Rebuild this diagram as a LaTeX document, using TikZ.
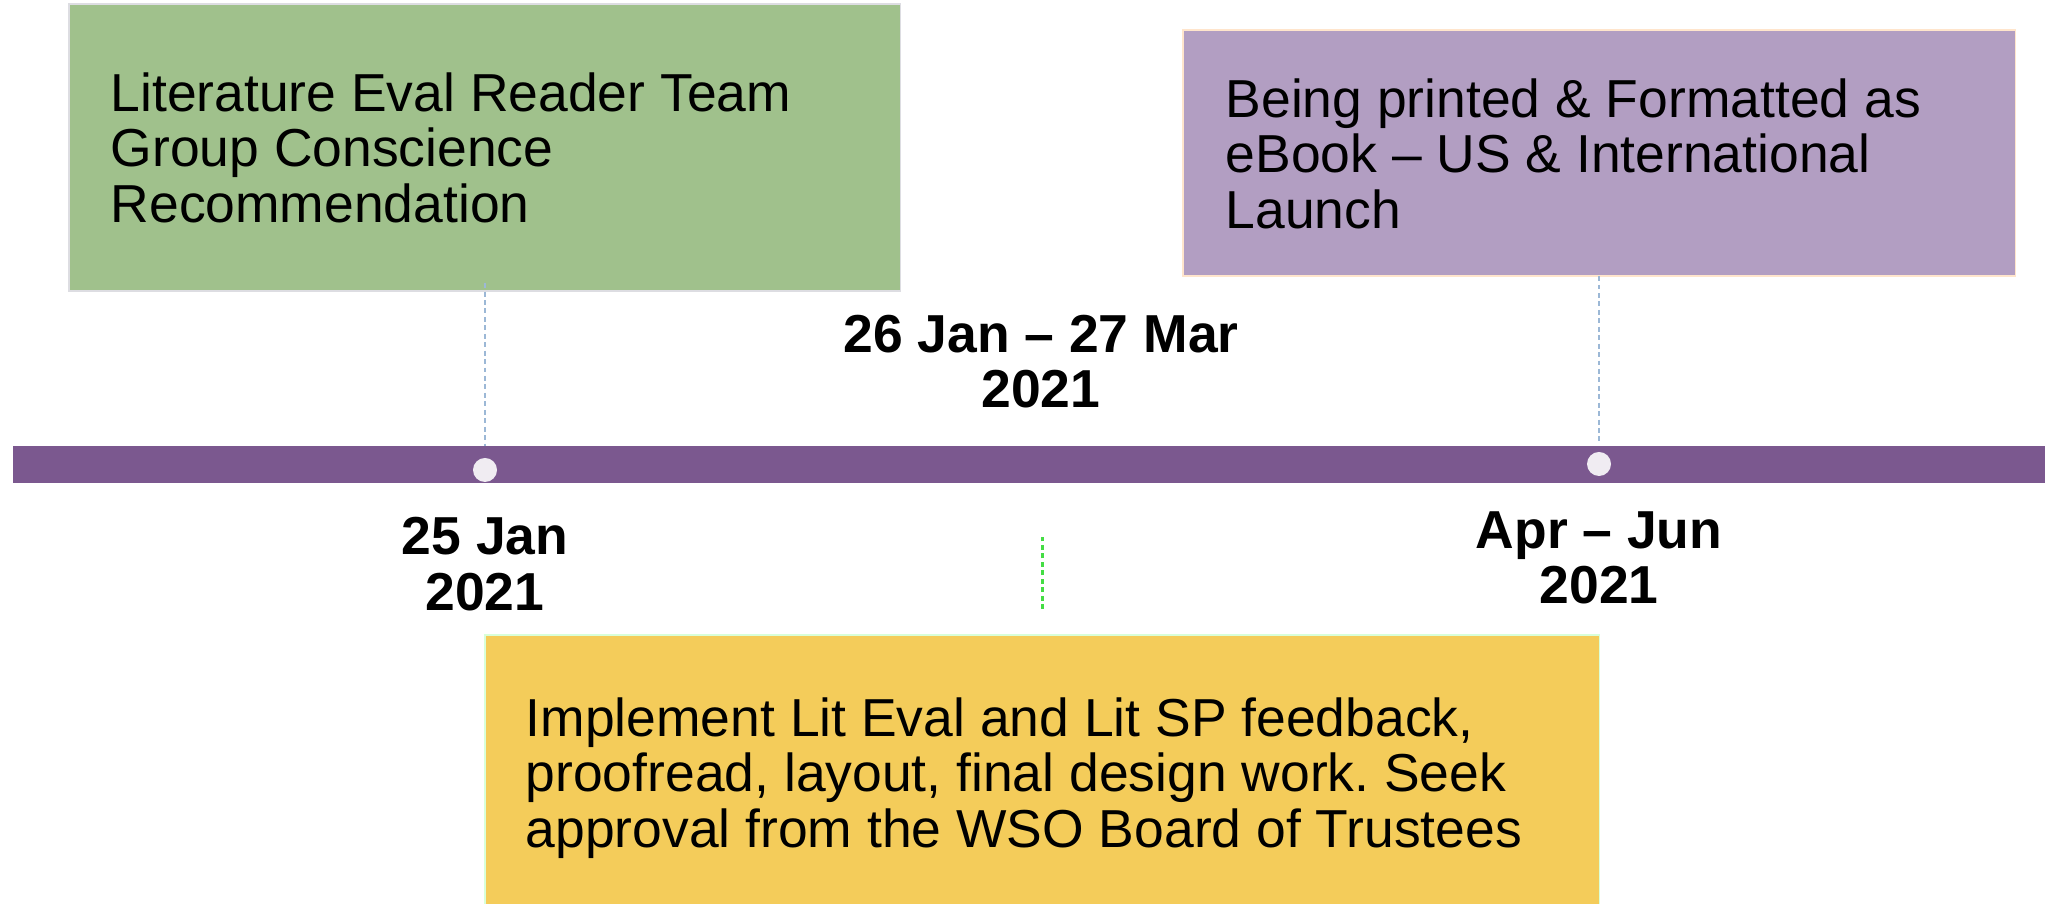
\documentclass[tikz,border=0pt]{standalone}
\usepackage{fontspec}
\setmainfont{Liberation Sans}
\usepackage{tikz}
\usetikzlibrary{positioning,calc}
\frenchspacing
\definecolor{evalgreen}{HTML}{A0C18C}
\definecolor{printpurple}{HTML}{B29EC2}
\definecolor{workyellow}{HTML}{F4CC5A}
\definecolor{barpurple}{HTML}{7B588F}
\definecolor{dotwhite}{HTML}{F0ECF2}
\definecolor{linkblue}{HTML}{9CB8D6}
\definecolor{linkgreen}{HTML}{44DD44}

\begin{document}
\begin{tikzpicture}[x=0.01cm, y=-0.01cm,
  box/.style={draw, line width=0.4pt, rectangle, anchor=north west, inner sep=0, outer sep=0},
  boxtext/.style={anchor=north west, align=left, inner sep=0, font=\fontsize{15.2}{15.8}\selectfont},
  date/.style={anchor=north, align=center, inner sep=0, font=\fontsize{15.2}{15.8}\selectfont\bfseries},
  dot/.style={circle, fill=dotwhite, minimum size=0.24cm, inner sep=0},
  link/.style={draw=linkblue, line width=0.55pt, dash pattern=on 1.4pt off 1pt}]
  \useasboundingbox (0,0) rectangle (2045,904);

  % Boxes
  \node[box, draw=blue!8!gray!25, fill=evalgreen, minimum width=8.31cm, minimum height=2.87cm] (green) at (69,4) {};
  \node[boxtext] at ($(green.north west)+(41,68)$) {Literature Eval Reader Team\\Group Conscience\\Recommendation};

  \node[box, draw=orange!20, fill=printpurple, minimum width=8.32cm, minimum height=2.46cm] (purple) at (1183,30) {};
  \node[boxtext] at ($(purple.north west)+(42,48)$) {Being printed \& Formatted as\\eBook -- US \& International\\Launch};

  \node[box, draw=green!15, fill=workyellow, minimum width=11.14cm, minimum height=2.8cm] (yellow) at (485,635) {};
  \node[boxtext] at ($(yellow.north west)+(40,62)$) {Implement Lit Eval and Lit SP feedback,\\proofread, layout, final design work. Seek\\approval from the WSO Board of Trustees};

  % Timeline
  \node[rectangle, fill=barpurple, minimum width=20.32cm, minimum height=0.37cm, inner sep=0, outer sep=0, anchor=west] (bar) at (13,464.5) {};
  \node[dot] (dot1) at (485,470) {};
  \node[dot] (dot2) at (1599,464) {};

  % Connectors
  \draw[link] ($(dot1 |- green.south)+(0,-8)$) -- (dot1 |- bar.north);
  \draw[link] (dot2 |- purple.south) -- ($(dot2 |- bar.north)+(0,-3)$);
  \draw[draw=linkgreen, line width=0.7pt, dash pattern=on 1.4pt off 1pt] ($(yellow.north)+(0,-26)$) -- ($(yellow.north)+(0,-98)$);

  % Dates
  \node[date, below=0.34cm of dot1] (jan) {25 Jan\\2021};
  \node[date] (janmar) at (1041,314) {26 Jan -- 27 Mar\\2021};
  \node[date, below=0.34cm of dot2] (aprjun) {Apr -- Jun\\2021};
\end{tikzpicture}
\end{document}
